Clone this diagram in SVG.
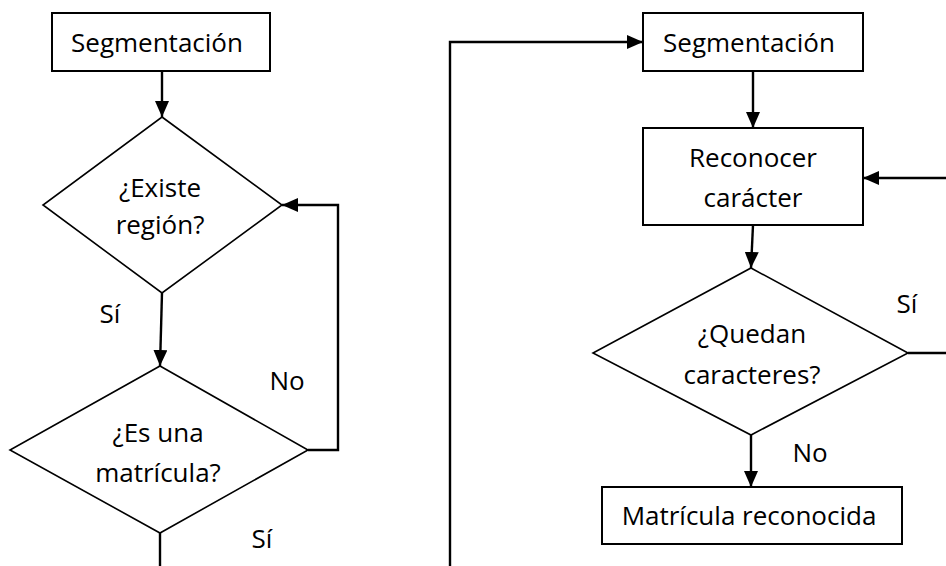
<svg xmlns="http://www.w3.org/2000/svg" width="946" height="566" viewBox="0 0 946 566">
  <style>
    .box { fill: #fff; stroke: #000; stroke-width: 2; }
    .dia { fill: #fff; stroke: #000; stroke-width: 1.6; }
    .lbl { font-family: "Open Sans", "Liberation Sans", sans-serif; font-size: 26px; fill: #000; text-anchor: middle; }
    .edge { fill: none; stroke: #000; stroke-width: 2.4; marker-end: url(#arr); }
    .line { fill: none; stroke: #000; stroke-width: 2.4; }
  </style>
  <defs>
    <marker id="arr" markerUnits="userSpaceOnUse" markerWidth="16" markerHeight="14" viewBox="0 0 16 14" refX="16" refY="7" orient="auto">
      <path d="M0,0 L16,7 L0,14 Z" fill="#000"/>
    </marker>
  </defs>

  <!-- Left flow -->
  <g id="seg1">
    <rect class="box" x="52" y="13" width="218" height="58"/>
    <text class="lbl" x="157" y="52">Segmentación</text>
  </g>
  <g id="existe">
    <polygon class="dia" points="162,117 282,205 162,293 43,205"/>
    <text class="lbl" x="160" y="197">¿Existe</text>
    <text class="lbl" x="160" y="234">región?</text>
  </g>
  <g id="esmatricula">
    <polygon class="dia" points="160,366 308,450 160,533 10,450"/>
    <text class="lbl" x="158" y="442">¿Es una</text>
    <text class="lbl" x="158" y="482">matrícula?</text>
  </g>

  <!-- Right flow -->
  <g id="seg2">
    <rect class="box" x="643" y="13" width="220" height="58"/>
    <text class="lbl" x="749" y="52">Segmentación</text>
  </g>
  <g id="reconocer">
    <rect class="box" x="643" y="128" width="220" height="97"/>
    <text class="lbl" x="753" y="167">Reconocer</text>
    <text class="lbl" x="753" y="207">carácter</text>
  </g>
  <g id="quedan">
    <polygon class="dia" points="751,268 908,353 751,435 593,353"/>
    <text class="lbl" x="752" y="343">¿Quedan</text>
    <text class="lbl" x="752" y="384">caracteres?</text>
  </g>
  <g id="reconocida">
    <rect class="box" x="602" y="487" width="300" height="57"/>
    <text class="lbl" x="749" y="525">Matrícula reconocida</text>
  </g>

  <g id="connectors">
    <path class="edge" d="M162,71 L162,117"/>
    <path class="edge" d="M162,293 L160,366"/>
    <path class="edge" d="M308,450 L338,450 L338,205 L282,205"/>
    <path class="line" d="M160,533 L160,570"/>
    <path class="edge" d="M450,570 L450,42 L643,42"/>
    <path class="edge" d="M753,71 L753,128"/>
    <path class="edge" d="M753,225 L751,268"/>
    <path class="edge" d="M908,353 L950,353 L950,178 L863,178"/>
    <path class="edge" d="M751,435 L751,487"/>
  </g>

  <g id="edge-labels">
    <text class="lbl" x="110" y="323">Sí</text>
    <text class="lbl" x="287" y="390">No</text>
    <text class="lbl" x="262" y="548">Sí</text>
    <text class="lbl" x="907" y="313">Sí</text>
    <text class="lbl" x="810" y="462">No</text>
  </g>
</svg>
